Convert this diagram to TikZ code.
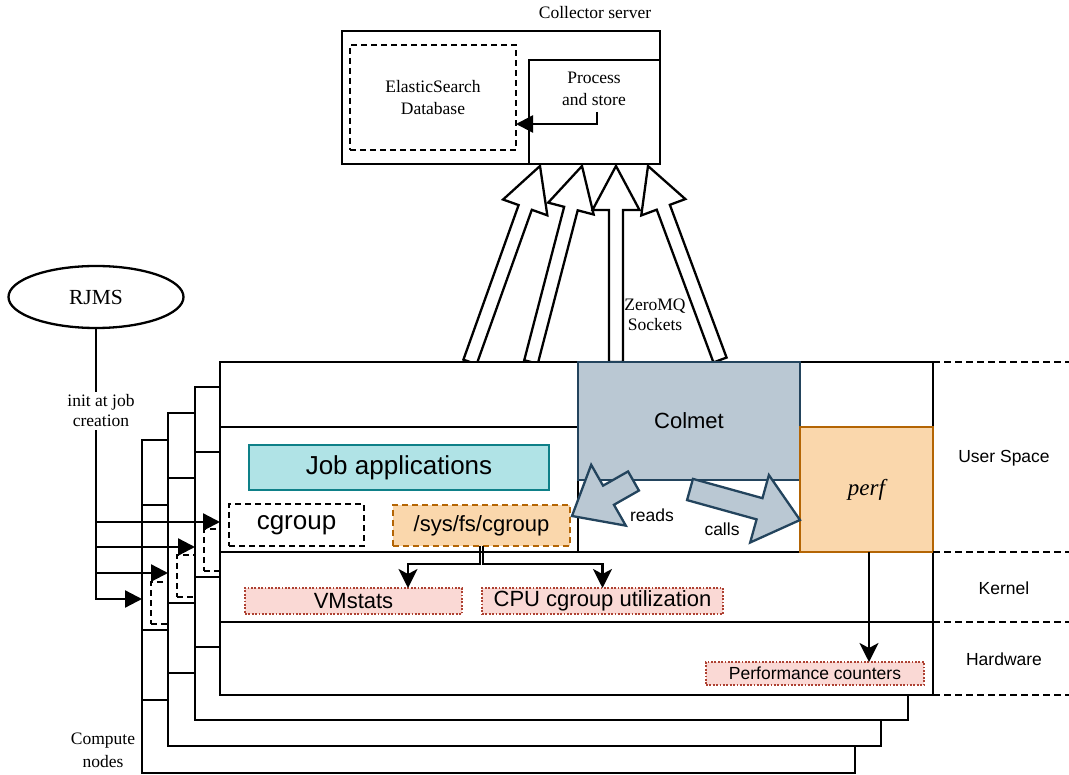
\documentclass[tikz,border=0pt]{standalone}
\usepackage{fontspec}
\setmainfont{Liberation Serif}
\newfontfamily\arialf{Liberation Sans}
\usetikzlibrary{arrows.meta,calc,shapes.geometric}
\definecolor{colfill}{HTML}{BAC8D3}
\definecolor{coldraw}{HTML}{23445D}
\definecolor{orfill}{HTML}{FAD7AC}
\definecolor{ordraw}{HTML}{B46504}
\definecolor{tealfill}{HTML}{B0E3E6}
\definecolor{tealdraw}{HTML}{0E8088}
\definecolor{pinkfill}{HTML}{FAD9D5}
\definecolor{pinkdraw}{HTML}{AE4132}

% box node from corner (x1,y1) to (x2,y2)
\newcommand\boxnode[7]{\node[#6, minimum width={(#4-#2)*1pt}, minimum height={(#5-#3)*1pt}] (#1) at ({(#2+#4)/2},{(#3+#5)/2}) {#7};}

% block (hollow) arrow: start, tip, shaft half width, head half width, head length, style
\newcommand\fatarrow[6]{%
  \coordinate (fah) at ($(#2)!#5!(#1)$);
  \draw[#6] ($(#1)!#3!90:(#2)$) -- ($(fah)!#3!90:(#2)$) -- ($(fah)!#4!90:(#2)$) -- (#2)
    -- ($(fah)!#4!-90:(#2)$) -- ($(fah)!#3!-90:(#2)$) -- ($(#1)!#3!-90:(#2)$) -- cycle;}

% compute node frame
\newcommand\cnode[3]{%
  \begin{scope}[shift={(#1,#2)}]
    \node[box, fill=white, minimum width=713pt, minimum height=333pt] (#3) at (576.5,528.5) {};
    \draw[ln] (#3.west |- 0,427) -- (578,427) -- (578,552);
    \draw[ln] (#3.west |- 0,552) -- (#3.east |- 0,552);
    \draw[ln] (#3.west |- 0,622) -- (#3.east |- 0,622);
    \node[box, dashbox, minimum width=135pt, minimum height=42pt] (#3cg) at (296.5,525) {};
  \end{scope}}

\begin{document}
\begin{tikzpicture}[x=1pt, y=-1pt,
  ln/.style={line width=2.3pt},
  box/.style={draw, line width=2.3pt, inner sep=0pt, outer sep=0pt, align=center},
  dashbox/.style={dash pattern=on 6pt off 4pt},
  pinkbox/.style={draw=pinkdraw, fill=pinkfill, line width=1.8pt, dash pattern=on 1.8pt off 1.6pt, inner sep=0pt, outer sep=0pt},
  rdash/.style={line width=1.8pt, dash pattern=on 7pt off 4pt},
  tri/.style={ln, -{Triangle[length=17pt,width=17pt]}},
  stl/.style={ln, -{Stealth[length=19pt,width=19pt,inset=5pt]}},
  serif/.style={font=\fontsize{17.5}{20}\selectfont, align=center, inner sep=1pt},
  ssans/.style={font=\arialf\fontsize{17.5}{20}\selectfont, align=center, inner sep=1pt},
  msans/.style={font=\arialf\fontsize{22}{25}\selectfont, align=center},
  bsans/.style={font=\arialf\fontsize{26}{29}\selectfont, align=center}]
\useasboundingbox (0,0) rectangle (1069,775);
\fill[white] (0,0) rectangle (1069,775);

% ---------- collector server ----------
\boxnode{coll}{342}{31}{660}{164}{box}{}
\node[serif] (colltitle) at (595,13) {Collector server};
\boxnode{es}{350}{45}{516}{150}{box, dashbox, font=\fontsize{17.5}{22}\selectfont}{ElasticSearch\\Database}
\boxnode{proc}{529}{60}{660}{164}{box}{}
\node[serif, font=\fontsize{17.5}{22}\selectfont] (proct) at (594,89) {Process\\and store};
\coordinate (pa) at (597,112);
\draw[tri] (pa) |- (es.east |- 0,124);

% ---------- ZeroMQ arrows ----------
\coordinate (z1s) at (470,362); \coordinate (z1t) at (540,166);
\coordinate (z2s) at (531,362); \coordinate (z2t) at (582,166);
\coordinate (z3s) at (616,362); \coordinate (z3t) at (616,166);
\coordinate (z4s) at (720,360); \coordinate (z4t) at (648,166);
\fatarrow{z1s}{z1t}{7pt}{23.5pt}{44pt}{ln, fill=white}
\fatarrow{z2s}{z2t}{7pt}{23.5pt}{44pt}{ln, fill=white}
\fatarrow{z3s}{z3t}{7pt}{23.5pt}{44pt}{ln, fill=white}
\fatarrow{z4s}{z4t}{7pt}{23.5pt}{44pt}{ln, fill=white}

% ---------- compute nodes ----------
\cnode{-78}{78}{nodeC}
\cnode{-52}{51}{nodeB}
\cnode{-25}{25}{nodeA}
\cnode{0}{0}{main}

% main node contents
\boxnode{job}{249}{445}{549}{490}{box, draw=tealdraw, fill=tealfill, bsans}{Job applications}
\node[bsans] (cgt) at (maincg) {cgroup};
\boxnode{sys}{393}{505}{570}{546}{box, dashbox, draw=ordraw, fill=orfill, msans}{/sys/fs/cgroup}
\boxnode{vm}{245}{588}{462}{614}{pinkbox, msans}{VMstats}
\boxnode{cpu}{482}{588}{723}{614}{pinkbox, msans}{CPU cgroup utilization}
\draw[stl] ([xshift=-1.5pt]sys.south) -- ++(0,18) -| ([xshift=54.5pt]vm.north);
\draw[stl] ([xshift=1.5pt]sys.south) -- ++(0,18) -| (cpu.north);

\boxnode{colmet}{578}{362}{800}{480}{box, draw=coldraw, fill=colfill, msans}{Colmet}
\boxnode{perf}{800}{427}{933}{552}{box, draw=ordraw, fill=orfill, font=\fontsize{23}{26}\selectfont\itshape}{perf}

\coordinate (rs) at (633.5,481); \coordinate (rt) at (572,516);
\coordinate (cs) at (690,489.5); \coordinate (ct) at (800,520);
\fatarrow{rs}{rt}{11pt}{35pt}{42pt}{line width=2.3pt, draw=coldraw, fill=colfill}
\fatarrow{cs}{ct}{11pt}{35pt}{42pt}{line width=2.3pt, draw=coldraw, fill=colfill}
\node[ssans] (reads) at (652,515) {reads};
\node[ssans] (calls) at (722,529) {calls};

\boxnode{pc}{706}{662}{924}{685}{pinkbox, ssans}{Performance counters}
\draw[stl] (perf.south -| 869,0) -- (pc.north -| 869,0);

% ---------- RJMS ----------
\node[ellipse, draw, ln, minimum width=175pt, minimum height=62pt, font=\fontsize{21.5}{24}\selectfont] (rjms) at (96,297) {RJMS};
\draw[tri] (rjms.south) |- (nodeC.west |- 0,599);
\draw[tri] (rjms.south) |- (nodeB.west |- 0,573);
\draw[tri] (rjms.south) |- (nodeA.west |- 0,547);
\draw[tri] (rjms.south) |- (main.west |- 0,522);
\node[serif, fill=white, inner sep=3pt] (init) at (101,411) {init at job\\creation};
\node[serif, font=\fontsize{17.5}{23}\selectfont] (cn) at (103,750) {Compute\\nodes};

% ---------- layers ----------
\draw[rdash] (main.north east) -- (1069,362);
\draw[rdash] (main.east |- 0,552) -- (1069,552);
\draw[rdash] (main.east |- 0,622) -- (1069,622);
\draw[rdash] (main.south east) -- (1069,695);
\node[ssans] (us) at (1004,458) {User Space};
\node[ssans] (kn) at (1004,588) {Kernel};
\node[ssans] (hw) at (1004,659) {Hardware};

\node[serif] (zmq) at (655,315) {ZeroMQ\\Sockets};
\end{tikzpicture}
\end{document}
